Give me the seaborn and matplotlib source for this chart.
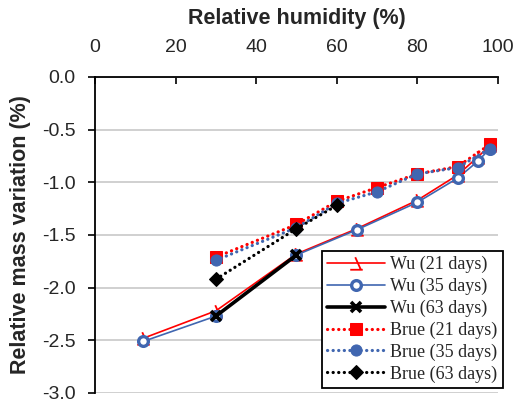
import numpy as np
import pandas as pd
import seaborn as sns
import matplotlib.pyplot as plt
from matplotlib.path import Path
from matplotlib.ticker import FormatStrFormatter, MultipleLocator

sns.set_style('ticks')
plt.rcParams['font.family'] = ['Liberation Sans', 'DejaVu Sans']
plt.rcParams['axes.unicode_minus'] = False

# data
wu21_rh = [12, 30, 50, 65, 80, 90, 95, 98]
wu21_mv = [-2.48, -2.22, -1.68, -1.44, -1.17, -0.93, -0.76, -0.65]
wu35_rh = [12, 30, 50, 65, 80, 90, 95, 98]
wu35_mv = [-2.51, -2.27, -1.69, -1.45, -1.19, -0.96, -0.80, -0.68]
wu63_rh = [30, 50]
wu63_mv = [-2.27, -1.69]
brue21_rh = [30, 50, 60, 70, 80, 90, 98]
brue21_mv = [-1.71, -1.40, -1.18, -1.05, -0.92, -0.85, -0.64]
brue35_rh = [30, 50, 60, 70, 80, 90, 98]
brue35_mv = [-1.74, -1.43, -1.20, -1.09, -0.92, -0.86, -0.68]
brue63_rh = [30, 50, 60]
brue63_mv = [-1.92, -1.44, -1.22]

red = '#FF0000'
blue = '#4066B0'
dot = (0, (0.05, 1.7))

# odd little step marker used by the spreadsheet for Wu (21 days)
step = Path([(-0.1, 0.5), (0.35, -0.5), (-0.5, -0.5), (0.5, -0.5)],
            [Path.MOVETO, Path.LINETO, Path.MOVETO, Path.LINETO])

series = [
    ('Wu (21 days)', wu21_rh, wu21_mv, dict(color=red, lw=1.2, ls='-', marker=step, ms=9, mew=1.3, mec=red, fillstyle='none')),
    ('Wu (35 days)', wu35_rh, wu35_mv, dict(color=blue, lw=1.2, ls='-', marker='o', ms=7, mew=2.4, mfc='white', mec=blue)),
    ('Wu (63 days)', wu63_rh, wu63_mv, dict(color='black', lw=2.6, ls='-', marker='x', ms=7, mew=2.6, mec='black')),
    ('Brue (21 days)', brue21_rh, brue21_mv, dict(color=red, lw=2.3, ls=dot, marker='s', ms=8, mec=red, mfc=red, dash_capstyle='round')),
    ('Brue (35 days)', brue35_rh, brue35_mv, dict(color=blue, lw=2.3, ls=dot, marker='o', ms=8, mec=blue, mfc=blue, dash_capstyle='round')),
    ('Brue (63 days)', brue63_rh, brue63_mv, dict(color='black', lw=2.3, ls=dot, marker='D', ms=7, mec='black', mfc='black', dash_capstyle='round')),
]

fig = plt.figure(figsize=(5.25, 4.08), dpi=100)
ax = fig.add_axes([0.181, 0.0368, 0.7675, 0.7745])

for name, x, y, kw in series:
    df = pd.DataFrame({'rh': x, 'mv': y})
    sns.lineplot(data=df, x='rh', y='mv', ax=ax, label=name, **kw)

ax.set_xlim(0, 100)
ax.set_ylim(-3.0, 0.0)
ax.xaxis.tick_top()
ax.xaxis.set_label_position('top')
ax.xaxis.set_major_locator(MultipleLocator(20))
ax.yaxis.set_major_locator(MultipleLocator(0.5))
ax.yaxis.set_major_formatter(FormatStrFormatter('%.1f'))
ax.set_xlabel('Relative humidity (%)', fontsize=15.5, fontweight='bold', labelpad=11)
ax.set_ylabel('Relative mass variation (%)', fontsize=15.5, fontweight='bold', labelpad=8)
ax.tick_params(axis='both', labelsize=14, width=1.2, color='black')
ax.tick_params(axis='x', direction='in', length=5, pad=15)
ax.tick_params(axis='y', direction='out', length=5, pad=9)

ax.grid(axis='y', color='#C8C8C8', lw=1.2)
ax.set_axisbelow(True)
for s in ['right', 'bottom']:
    ax.spines[s].set_visible(False)
for s in ['left', 'top']:
    ax.spines[s].set_color('black')
    ax.spines[s].set_linewidth(1.3)

leg = ax.legend(loc='lower right', bbox_to_anchor=(0.958, 0.049), bbox_transform=fig.transFigure,
                prop={'family': 'Liberation Serif', 'size': 13}, frameon=True, fancybox=False,
                edgecolor='black', framealpha=1, handlelength=3.2, labelspacing=0.25,
                borderpad=0.3, handletextpad=0.3, borderaxespad=0)
leg.get_frame().set_linewidth(1.3)

fig.savefig('out.png', dpi=100)
